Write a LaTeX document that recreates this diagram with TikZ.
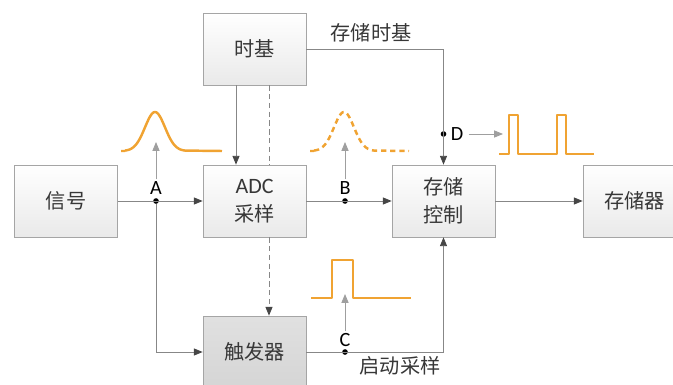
\documentclass[tikz,border=0pt]{standalone}
\usepackage{fontspec}
\setmainfont{Carlito}
\newfontfamily\cjkfont{Noto Sans CJK SC}
\newfontfamily\latinfont{Carlito}
\definecolor{osorange}{RGB}{240,163,50}
\definecolor{osline}{RGB}{135,135,135}
\definecolor{ostip}{RGB}{70,70,70}
\definecolor{ostext}{RGB}{55,55,55}
\definecolor{osborder}{RGB}{165,165,165}
\usetikzlibrary{arrows.meta,positioning,calc}

\begin{document}
\begin{tikzpicture}[x=0.02cm,y=-0.02cm,
  osbox/.style={draw=osborder,top color=white,bottom color=gray!17,
    minimum width=2.06cm,minimum height=1.44cm,align=center,inner sep=0pt,
    font=\cjkfont\fontsize{11.5}{16}\selectfont,text=ostext},
  ostrig/.style={osbox,top color=gray!24,bottom color=gray!33},
  osarr/.style={-{Triangle[length=5pt,width=4pt,color=ostip]},osline,line width=0.5pt},
  osdash/.style={osline,line width=0.5pt,dash pattern=on 3pt off 2pt},
  ossig/.style={-{Triangle[length=5pt,width=4pt]},gray!75,line width=0.5pt},
  ospulse/.style={osorange,line width=1.4pt,line join=round},
  osdot/.style={circle,fill=black,inner sep=0pt,minimum size=3.2pt},
  oslabel/.style={font=\latinfont\fontsize{11.5}{13}\selectfont,text=black,inner sep=1pt},
  ostxt/.style={font=\cjkfont\fontsize{11.5}{14}\selectfont,text=ostext,inner sep=0pt}
]
  \useasboundingbox (0,0) rectangle (673,385);

  % Blocks
  \node[osbox] (tb) at (254.5,49) {时基};
  \node[osbox] (sig) at (66,201) {信号};
  \node[osbox] (adc) at (254.5,201) {{\latinfont\fontsize{12.5}{16}\selectfont ADC}\\采样};
  \node[ostrig] (trig) at (254.5,352) {触发器};
  \node[osbox] (ctrl) at (443.5,201) {存储\\控制};
  \node[osbox] (mem) at (634.5,201) {存储器};

  % Probe points
  \node[osdot] (A) at (156,201) {};
  \node[osdot] (B) at (345,201) {};
  \node[osdot] (C) at (345,352) {};
  \node[osdot] (D) at (443.5,134) {};

  % Connectors
  \draw[osarr] (sig) -- (adc);
  \draw[osarr] (adc) -- (ctrl);
  \draw[osarr] (ctrl) -- (mem);
  \draw[osarr] (A) |- (trig.west);
  \draw[osarr] ([xshift=-0.37cm]tb.south) -- ([xshift=-0.37cm]adc.north);
  \draw[osdash] ([xshift=0.29cm]tb.south) -- ([xshift=0.29cm]adc.north);
  \draw[osdash,-{Triangle[length=5pt,width=4pt,color=ostip]}]
    ([xshift=0.29cm]adc.south) -- ([xshift=0.29cm]trig.north);
  \draw[osarr] (tb.east) -| (ctrl.north);
  \draw[osarr] (trig.east) -| (ctrl.south);

  % Line labels
  \node[ostxt] (tblab) at (371,33) {存储时基};
  \node[ostxt] (trlab) at (400,366) {启动采样};

  % Probe labels and arrows to the waveforms
  \node[oslabel] (labA) at (156,188) {A};
  \node[oslabel] (labB) at (345,188) {B};
  \node[oslabel] (labC) at (345,340) {C};
  \node[oslabel,inner sep=3pt] (labD) at (457,134) {D};
  \coordinate (pkA) at (156,142);
  \coordinate (pkB) at (345,142);
  \coordinate (pkC) at (345,294);
  \coordinate (pkD) at (503,134);
  \draw[ossig] (labA.north) -- (pkA);
  \draw[ossig] (labB.north) -- (pkB);
  \draw[ossig] (labC.north) -- (pkC);
  \draw[ossig] (labD.east) -- (pkD);

  % Waveforms
  \draw[ospulse] (121,151) -- (125,151)
    plot[domain=125:185,samples=50,smooth] (\x,{151-39*exp(-((\x-155)^2)/200)})
    -- (222,151);
  \draw[ospulse,dash pattern=on 3pt off 2.2pt] (310,151) -- (314,151)
    plot[domain=314:374,samples=50,smooth] (\x,{151-39*exp(-((\x-344)^2)/200)})
    -- (409,151);
  \draw[ospulse] (311,298) -- (332,298) -- (332,260) -- (353,260) -- (353,298) -- (411,298);
  \draw[ospulse] (499,154) -- (509,154) -- (509,115) -- (518,115) -- (518,154)
    -- (557,154) -- (557,115) -- (566,115) -- (566,154) -- (594,154);
\end{tikzpicture}
\end{document}
